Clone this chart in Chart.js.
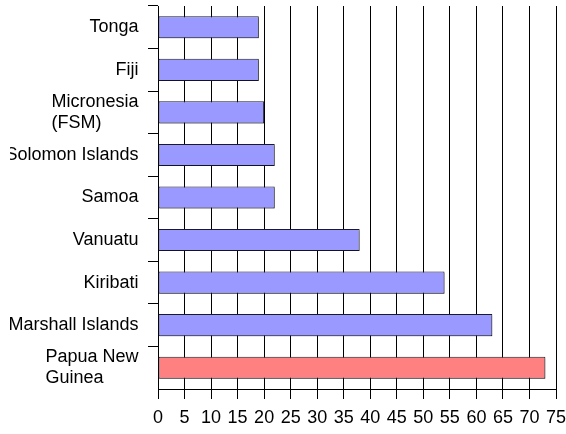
<!DOCTYPE html>
<html>
<head>
<meta charset="utf-8">
<script src="https://cdn.jsdelivr.net/npm/chart.js@4"></script>
<style>
  html, body { margin: 0; padding: 0; background: #fff; }
  #wrap { width: 566px; height: 434px; }
</style>
</head>
<body>
<div id="wrap"><canvas id="c" width="566" height="434"></canvas></div>
<script>
// Pacific countries, top to bottom
const countries = [
  'Tonga',
  'Fiji',
  ['Micronesia', '(FSM)'],
  'Solomon Islands',
  'Samoa',
  'Vanuatu',
  'Kiribati',
  'Marshall Islands',
  ['Papua New', 'Guinea']
];
const values = [19, 19, 20, 22, 22, 38, 54, 63, 73];
const xTicks = [0, 5, 10, 15, 20, 25, 30, 35, 40, 45, 50, 55, 60, 65, 70, 75];
const highlighted = 'Papua New Guinea';

const FONT = '"Liberation Sans", Arial, sans-serif';
const nameOf = l => Array.isArray(l) ? l.join(' ') : l;
const barFill = countries.map(l => nameOf(l) === highlighted ? '#FF8080' : '#9999FF');

// Category labels: block right-aligned next to the tick marks, lines left-aligned inside the block
const yLabelPlugin = {
  id: 'yLabels',
  afterDraw(chart) {
    const sc = chart.scales.y;
    const ctx = chart.ctx;
    const lh = 21.6;
    ctx.save();
    ctx.beginPath();
    ctx.rect(10, 0, chart.width - 10, chart.height);
    ctx.clip();
    ctx.font = '18px ' + FONT;
    ctx.fillStyle = '#000';
    ctx.textBaseline = 'middle';
    ctx.textAlign = 'left';
    const right = sc.right - 10 - 9.5;
    sc.getLabels().forEach((lab, i) => {
      const lines = Array.isArray(lab) ? lab : [lab];
      const w = Math.max(...lines.map(t => ctx.measureText(t).width));
      const y0 = sc.getPixelForTick(i) - (lines.length - 1) * lh / 2;
      lines.forEach((t, k) => ctx.fillText(t, right - w, y0 + k * lh));
    });
    ctx.restore();
  }
};

// Light drop shadow under the bars
const barShadow = {
  id: 'barShadow',
  beforeDatasetsDraw(chart) {
    const ctx = chart.ctx;
    ctx.save();
    ctx.shadowColor = 'rgba(0,0,0,0.22)';
    ctx.shadowOffsetX = 1.5;
    ctx.shadowOffsetY = 1.5;
    ctx.shadowBlur = 0;
  },
  afterDatasetsDraw(chart) {
    chart.ctx.restore();
  }
};

new Chart(document.getElementById('c'), {
  type: 'bar',
  data: {
    labels: countries,
    datasets: [{
      data: values,
      backgroundColor: barFill,
      borderColor: '#1a1a2a',
      borderWidth: 1,
      borderSkipped: false,
      barPercentage: 0.52,
      categoryPercentage: 1
    }]
  },
  options: {
    indexAxis: 'y',
    responsive: false,
    animation: false,
    devicePixelRatio: 1,
    layout: { padding: { left: 0, right: 10, top: 6, bottom: 0 } },
    plugins: { legend: { display: false }, tooltip: { enabled: false } },
    scales: {
      x: {
        type: 'linear',
        min: 0,
        max: 75,
        afterBuildTicks(scale) { scale.ticks = xTicks.map(v => ({ value: v })); },
        afterFit(scale) {
          scale.height = 45;
          scale.paddingLeft = 0;
          scale.paddingRight = 0;
        },
        grid: {
          color: '#000',
          lineWidth: 1,
          drawTicks: true,
          tickLength: 10,
          tickColor: '#000'
        },
        border: { display: true, color: '#000', width: 1 },
        ticks: {
          color: '#000',
          font: { family: FONT, size: 18 },
          padding: 8,
          maxRotation: 0,
          autoSkip: false
        }
      },
      y: {
        type: 'category',
        offset: true,
        afterFit(scale) { scale.width = 158; },
        grid: {
          drawOnChartArea: false,
          drawTicks: true,
          tickLength: 10,
          tickColor: ctx => ctx.type === 'tick' ? '#000' : 'rgba(0,0,0,0)',
          color: '#000',
          offset: true
        },
        border: { display: true, color: '#000', width: 1 },
        ticks: { display: false }
      }
    }
  },
  plugins: [barShadow, yLabelPlugin]
});
</script>
</body>
</html>
